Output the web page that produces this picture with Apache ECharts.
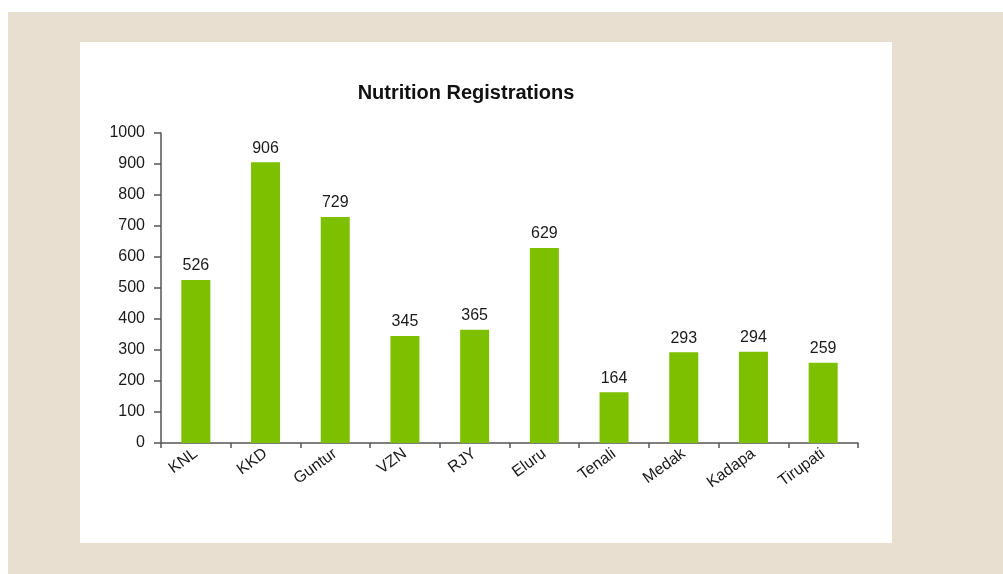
<!DOCTYPE html>
<html>
<head>
<meta charset="utf-8">
<script src="https://cdn.jsdelivr.net/npm/echarts@6/dist/echarts.min.js"></script>
<style>
  html, body { margin: 0; padding: 0; background: #fff; }
  #wrap { position: relative; width: 1003px; height: 574px; overflow: hidden; }
  #beige { position: absolute; left: 8px; top: 12px; right: 0; bottom: 0; background: #e8dfd0; }
  #panel { position: absolute; left: 80px; top: 42px; width: 812px; height: 501px; background: #fff; }
  #main { position: absolute; left: 0; top: 0; width: 1003px; height: 574px; }
  #topcut { position: absolute; left: 0; top: 0; width: 1003px; height: 12px; background: #fff; }
</style>
</head>
<body>
<div id="wrap">
  <div id="beige"></div>
  <div id="panel"></div>
  <div id="main"></div>
  <div id="topcut"></div>
</div>
<script>
// data
var districts = ['KNL', 'KKD', 'Guntur', 'VZN', 'RJY', 'Eluru', 'Tenali', 'Medak', 'Kadapa', 'Tirupati'];
var registrations = [526, 906, 729, 345, 365, 629, 164, 293, 294, 259];
var yTicks = [0, 100, 200, 300, 400, 500, 600, 700, 800, 900, 1000];

var chart = echarts.init(document.getElementById('main'), null, { renderer: 'canvas' });

chart.setOption({
  backgroundColor: 'transparent',
  animation: false,
  title: {
    text: 'Nutrition Registrations',
    left: 461,
    top: 78,
    textAlign: 'center',
    textStyle: { fontFamily: 'Liberation Sans', fontWeight: 'bold', fontSize: 20, color: '#111' }
  },
  // descenders of the cut-off heading above the panel
  graphic: [
    { type: 'text', left: 176, top: -8, style: { text: 'g', font: 'bold 20px Liberation Sans', fill: '#222' } },
    { type: 'text', left: 629, top: -8, style: { text: 'g', font: 'bold 20px Liberation Sans', fill: '#222' } }
  ],
  grid: { left: 161, right: 145, top: 133, bottom: 131, containLabel: false },
  xAxis: {
    type: 'category',
    data: districts,
    boundaryGap: true,
    axisLine: { lineStyle: { color: '#555', width: 1.5 } },
    axisTick: { show: true, length: 5, lineStyle: { color: '#555', width: 1.5 } },
    axisLabel: {
      rotate: 36,
      margin: 9,
      interval: 0,
      color: '#1a1a1a',
      fontFamily: 'Liberation Sans',
      fontSize: 16
    }
  },
  yAxis: {
    type: 'value',
    min: yTicks[0],
    max: yTicks[yTicks.length - 1],
    interval: 100,
    splitLine: { show: false },
    axisLine: { show: true, lineStyle: { color: '#555', width: 1.5 } },
    axisTick: { show: true, length: 7, lineStyle: { color: '#555', width: 1.5 } },
    axisLabel: {
      margin: 16,
      color: '#1a1a1a',
      fontFamily: 'Liberation Sans',
      fontSize: 16,
      formatter: function (v) { return String(v); }
    }
  },
  series: [{
    type: 'bar',
    data: registrations,
    barWidth: 29,
    itemStyle: { color: '#7dc000' },
    label: {
      show: true,
      position: 'top',
      distance: 6,
      color: '#1a1a1a',
      fontFamily: 'Liberation Sans',
      fontSize: 16
    }
  }]
});
</script>
</body>
</html>
